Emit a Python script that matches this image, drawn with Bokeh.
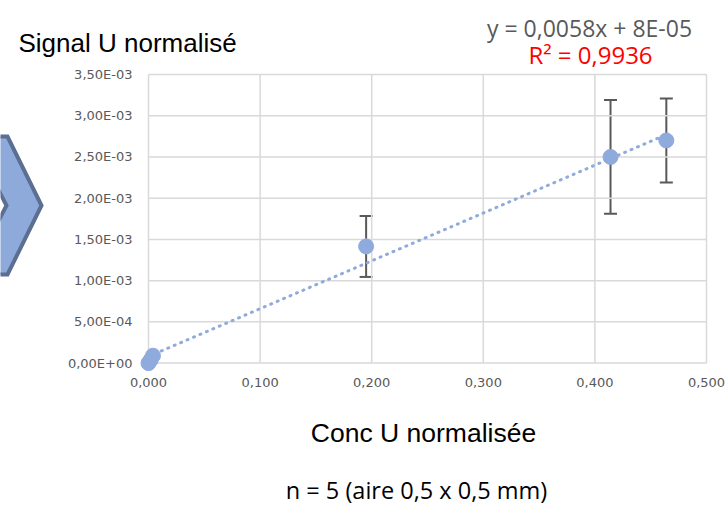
from bokeh.plotting import figure
from bokeh.models import Range1d, ColumnDataSource, Whisker, TeeHead
from bokeh.core.properties import value
from bokeh.embed import file_html
from bokeh.resources import INLINE

# ---------------- data ----------------
conc = [0.000, 0.002, 0.004, 0.195, 0.414, 0.464]
signal = [0.0, 0.00004, 0.00009, 0.001415, 0.00250, 0.00270]
err = [0.0, 0.0, 0.0, 0.00037, 0.00069, 0.00051]
slope = 0.0058
intercept = 0.00008
x_ticks = [0.0, 0.1, 0.2, 0.3, 0.4, 0.5]
x_tick_labels = ["0,000", "0,100", "0,200", "0,300", "0,400", "0,500"]
y_ticks = [0.0, 0.0005, 0.001, 0.0015, 0.002, 0.0025, 0.003, 0.0035]
y_tick_labels = ["0,00E+00", "5,00E-04", "1,00E-03", "1,50E-03",
                 "2,00E-03", "2,50E-03", "3,00E-03", "3,50E-03"]
title_text = "Signal U normalisé"
eq_text = "y = 0,0058x + 8E-05"
r2_text = "R² = 0,9936"
xlabel_text = "Conc U normalisée"
note_text = "n = 5 (aire 0,5 x 0,5 mm)"

# ---------------- layout (the frame fills the whole canvas) ----------------
W, H = 727, 507
ZX, ZY = 148, 362.6      # canvas px of the data origin
RX, TY = 706, 74         # canvas px of x=0.5 and y=0.0035
ppu_x = (RX - ZX) / x_ticks[-1]
ppu_y = (ZY - TY) / y_ticks[-1]


def X(px):
    return (px - ZX) / ppu_x


def Y(py):
    return (ZY - py) / ppu_y


p = figure(width=W, height=H, output_backend="svg", toolbar_location=None,
           x_range=Range1d(X(0), X(W)), y_range=Range1d(Y(H), Y(0)),
           x_axis_location=None, y_axis_location=None,
           min_border=0, min_border_left=0, min_border_right=0,
           min_border_top=0, min_border_bottom=0)
p.outline_line_color = None
p.xgrid.visible = False
p.ygrid.visible = False
p.background_fill_color = "white"
p.border_fill_color = "white"

grid_color = "#d9d9d9"
p.segment(x0=x_ticks, x1=x_ticks, y0=[y_ticks[0]] * len(x_ticks),
          y1=[y_ticks[-1]] * len(x_ticks), line_color=grid_color, line_width=1.5)
p.segment(x0=[x_ticks[0]] * len(y_ticks), x1=[x_ticks[-1]] * len(y_ticks),
          y0=y_ticks, y1=y_ticks, line_color=grid_color, line_width=1.5)

# tick labels
tick_font = value("DejaVu Sans")
p.text(x=[X(132)] * len(y_ticks), y=y_ticks, text=y_tick_labels,
       text_align="right", text_baseline="middle", text_font=tick_font,
       text_font_size=value("13px"), text_color="#595959")
p.text(x=x_ticks, y=[Y(382)] * len(x_ticks), text=x_tick_labels,
       text_align="center", text_baseline="middle", text_font=tick_font,
       text_font_size=value("13px"), text_color="#595959")

# trendline
tx = [min(conc), max(conc)]
ty = [slope * v + intercept for v in tx]
p.line(tx, ty, line_color="#8faadc", line_width=3, line_dash="1 6",
       line_cap="round")

# error bars
ebar_src = ColumnDataSource(dict(
    x=[c for c, e in zip(conc, err) if e > 0],
    lo=[s - e for s, e in zip(signal, err) if e > 0],
    hi=[s + e for s, e in zip(signal, err) if e > 0],
))
p.add_layout(Whisker(
    base="x", lower="lo", upper="hi", source=ebar_src, dimension="height",
    line_color="#595959", line_width=2,
    upper_head=TeeHead(size=13, line_color="#595959", line_width=2),
    lower_head=TeeHead(size=13, line_color="#595959", line_width=2)))

p.scatter(conc, signal, size=15, fill_color="#8faadc", line_color="#8faadc")

# chevron shape at the left edge
chev_px = [(-30, 136), (7, 136), (41, 205), (7, 274), (-30, 274), (6, 205)]
p.patch([X(a) for a, b in chev_px], [Y(b) for a, b in chev_px],
        fill_color="#8eaadb", line_color="#5b6f92", line_width=4,
        line_join="miter")

# texts
def txt(px, py, s, font, size, color, align):
    p.text(x=[X(px)], y=[Y(py)], text=[s], text_align=align,
           text_baseline="alphabetic", text_font=value(font),
           text_font_size=value(size), text_color=color)


txt(18, 42, title_text, "Liberation Sans", "26px", "black", "left")
txt(589, 27, eq_text, "Open Sans", "23px", "#595959", "center")
txt(590, 54, r2_text, "Open Sans", "24px", "#ff0000", "center")
txt(423, 432, xlabel_text, "Liberation Sans", "26.5px", "black", "center")
txt(416, 489, note_text, "Open Sans", "23.5px", "black", "center")

open("out.html", "w").write(file_html(p, INLINE))
